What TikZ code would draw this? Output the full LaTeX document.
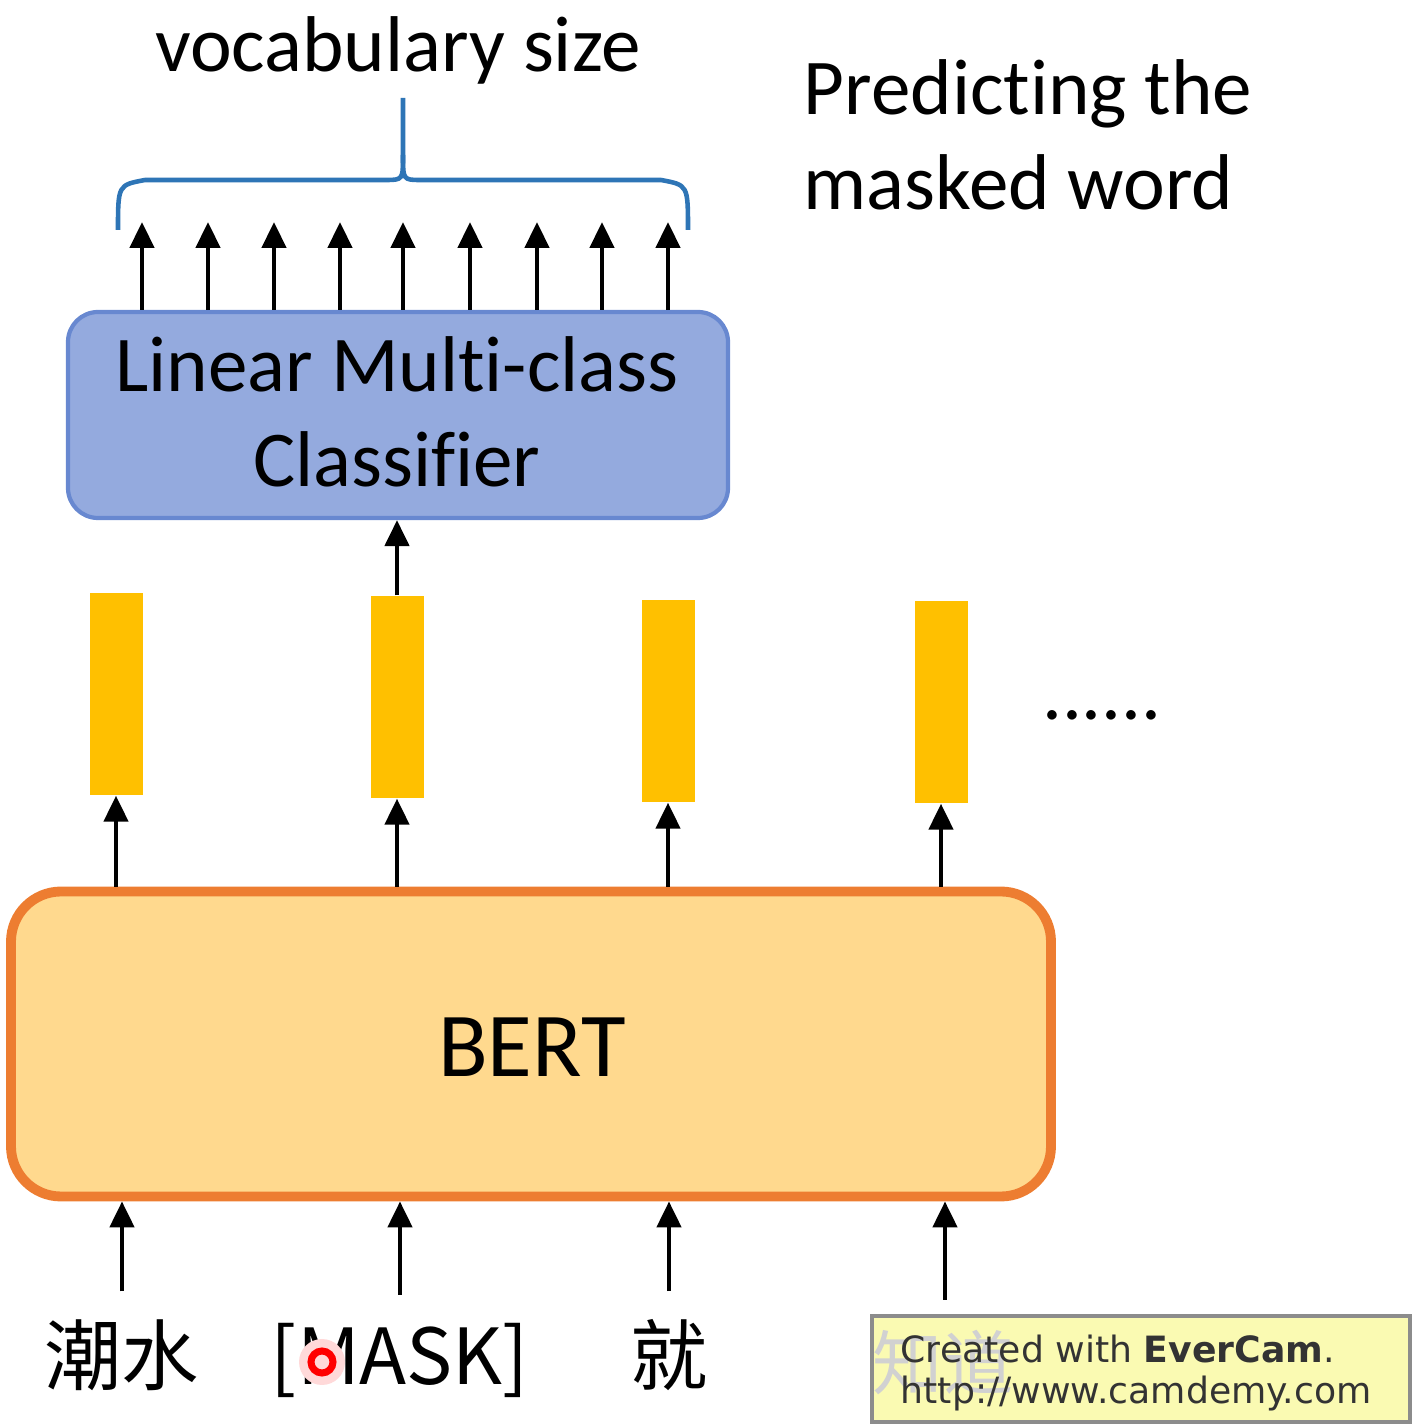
\documentclass[tikz,border=0pt]{standalone}
\usepackage{fontspec}
\setmainfont{Carlito}[Ligatures=NoCommon]
\newfontfamily\cjk{Noto Sans CJK SC}
\newfontfamily\wm{DejaVu Sans}
\usepackage{tikz}
\usetikzlibrary{arrows.meta}
\definecolor{clsfill}{RGB}{148,170,222}
\definecolor{clsline}{RGB}{104,136,208}
\definecolor{bertfill}{RGB}{255,217,142}
\definecolor{bertline}{RGB}{237,125,49}
\definecolor{barfill}{RGB}{255,192,0}
\definecolor{bracecol}{RGB}{46,117,182}
\definecolor{wmfill}{RGB}{250,250,178}

\begin{document}
\begin{tikzpicture}
    [x=1cm,y=1cm,
     arr/.style={line width=1.3pt,-{Triangle[length=0.26cm,width=0.24cm]}},
     clsbox/.style={draw=clsline,fill=clsfill,line width=1.2pt,rounded corners=0.3cm,
        minimum width=6.6cm,minimum height=2.06cm},
     bertbox/.style={draw=bertline,fill=bertfill,line width=2.8pt,rounded corners=0.5cm,
        minimum width=10.4cm,minimum height=3.05cm},
     vec/.style={fill=barfill,minimum width=0.53cm,minimum height=2.02cm,inner sep=0pt},
     tok/.style={font=\cjk\fontsize{22}{26}\selectfont,inner ysep=8pt,anchor=base},
     big/.style={font=\fontsize{22.5}{27}\selectfont}]
    \useasboundingbox (0,0) rectangle (14.19,14.25);

    % output side
    \node[big,anchor=base] (voc) at (3.98, 13.53) {vocabulary size};
    \node[big,anchor=base west,inner sep=0pt] (pred1) at (8.03, 13.10) {Predicting the};
    \node[big,anchor=base west,inner sep=0pt] (pred2) at (8.03, 12.15) {masked word};
    \draw[bracecol,line width=1.3pt]
        (1.18,11.95) .. controls (1.18,12.40) .. (1.45,12.45) -- (3.85,12.45)
        .. controls (4.03,12.45) .. (4.03,12.70) -- (4.03,13.27);
    \draw[bracecol,line width=1.3pt]
        (6.88,11.95) .. controls (6.88,12.40) .. (6.61,12.45) -- (4.21,12.45)
        .. controls (4.03,12.45) .. (4.03,12.70);

    \node[clsbox] (cls) at (3.98, 10.10) {};
    \node[big,anchor=base] (cls1) at (3.97, 10.33) {Linear Multi-class};
    \node[big,anchor=base] (cls2) at (3.97, 9.38) {Classifier};

    \coordinate (o1) at (1.42, 12.03);
    \coordinate (o2) at (2.08, 12.03);
    \coordinate (o3) at (2.74, 12.03);
    \coordinate (o4) at (3.40, 12.03);
    \coordinate (o5) at (4.03, 12.03);
    \coordinate (o6) at (4.70, 12.03);
    \coordinate (o7) at (5.37, 12.03);
    \coordinate (o8) at (6.02, 12.03);
    \coordinate (o9) at (6.68, 12.03);
    \draw[arr] (cls.north -| o1) -- (o1);
    \draw[arr] (cls.north -| o2) -- (o2);
    \draw[arr] (cls.north -| o3) -- (o3);
    \draw[arr] (cls.north -| o4) -- (o4);
    \draw[arr] (cls.north -| o5) -- (o5);
    \draw[arr] (cls.north -| o6) -- (o6);
    \draw[arr] (cls.north -| o7) -- (o7);
    \draw[arr] (cls.north -| o8) -- (o8);
    \draw[arr] (cls.north -| o9) -- (o9);

    % hidden vectors
    \node[vec] (b1) at (1.16, 7.31) {};
    \node[vec] (b2) at (3.97, 7.28) {};
    \node[vec] (b3) at (6.68, 7.24) {};
    \node[vec] (b4) at (9.41, 7.23) {};
    \node[big] (dots) at (11.02, 7.10) {......};
    \draw[arr] (b2.north) -- (cls.south -| b2);

    % BERT
    \node[bertbox] (bert) at (5.31, 3.81) {};
    \node[font=\fontsize{26}{30}\selectfont] (bertlab) at (5.32, 3.78) {BERT};
    \draw[arr] (bert.north -| b1) -- (b1.south);
    \draw[arr] (bert.north -| b2) -- (b2.south);
    \draw[arr] (bert.north -| b3) -- (b3.south);
    \draw[arr] (bert.north -| b4) -- (b4.south);

    % input tokens
    \node[tok] (t1) at (1.22, 0.40) {潮水};
    \node[tok] (t2) at (4.00, 0.40) {[MASK]};
    \node[tok] (t3) at (6.69, 0.40) {就};
    \coordinate (t4) at (9.45, 1.25);
    \draw[arr] (t1.north) -- (bert.south -| t1);
    \draw[arr] (t2.north) -- (bert.south -| t2);
    \draw[arr] (t3.north) -- (bert.south -| t3);
    \draw[arr] (t4) -- (bert.south -| t4);
    \node[circle,fill=red!15,minimum size=0.46cm,inner sep=0pt] (glow) at (3.22, 0.63) {};
    \node[circle,draw=red,line width=2pt,minimum size=0.22cm,inner sep=0pt] (cursor) at (3.22, 0.63) {};

    % watermark
    \node[draw=black!45,fill=wmfill,line width=1pt,minimum width=5.38cm,minimum height=1.06cm] (wmbox) at (11.41, 0.56) {};
    \node[text=black!18,font=\cjk\fontsize{20}{24}\selectfont] (ghost) at (9.43, 0.62) {知道};
    \node[anchor=base west,inner sep=0pt,text=black!80,font=\wm\fontsize{10.3}{12}\selectfont] (wm1) at (9.00, 0.62) {Created with \textbf{EverCam}.};
    \node[anchor=base west,inner sep=0pt,text=black!80,font=\wm\fontsize{10.3}{12}\selectfont] (wm2) at (9.00, 0.22) {http://www.camdemy.com};
\end{tikzpicture}
\end{document}
